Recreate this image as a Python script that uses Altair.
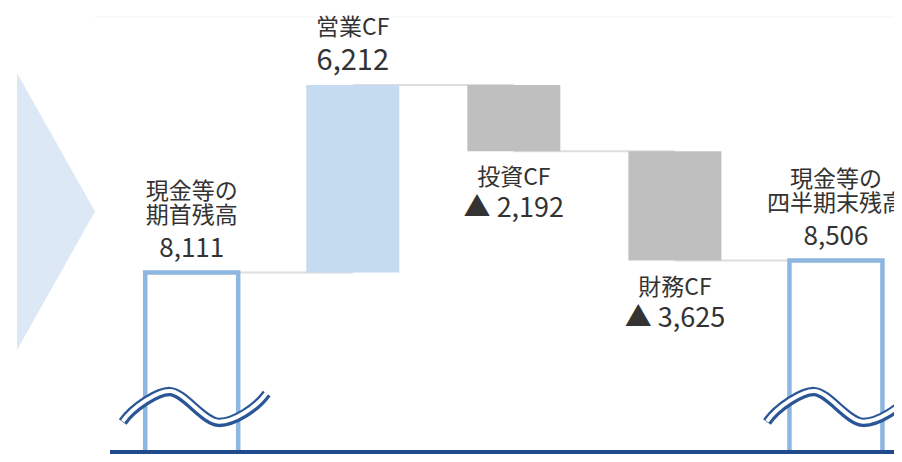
import altair as alt
import pandas as pd

# ---- data ----
STEP_KEYS = ["start", "op", "inv", "fin", "end"]
STEP_NAMES = ["現金等の\n期首残高", "営業CF", "投資CF", "財務CF", "現金等の\n四半期末残高"]
STEP_VALUES = [8111, 6212, -2192, -3625, 8506]
STEP_KIND = ["total", "delta", "delta", "delta", "total"]
DELTA_COLORS = {"op": "#c5dcf0", "inv": "#bfbfbf", "fin": "#bfbfbf"}
VALUE_SIZES = {"start": 26, "op": 29, "inv": 27, "fin": 27, "end": 26}

# broken value axis (bottom of the drawing) and top of the drawing
AXIS_MIN = 2098
AXIS_MAX = 16874

FONT = "Noto Sans CJK JP"
TEXT_COLOR = "#333333"
NAVY = "#1f4b8c"
OUTLINE = "#8db6e0"

rows = []
running = 0
for key, name, val, kind in zip(STEP_KEYS, STEP_NAMES, STEP_VALUES, STEP_KIND):
    if kind == "total":
        lo, hi = AXIS_MIN, val
        running = val
    else:
        lo, hi = sorted([running, running + val])
        running += val
    up = (kind == "total") or val > 0
    lines = name.split("\n")
    rows.append({
        "key": key, "kind": kind, "lo": lo, "hi": hi, "running": running,
        "anchor": hi if up else lo, "up": up,
        "vlabel": f"{val:,}" if val >= 0 else f"▲ {abs(val):,}",
        "vsize": VALUE_SIZES[key],
        "line1": lines[0] if len(lines) > 1 else "",
        "line2": lines[-1],
        "color": DELTA_COLORS.get(key, "white"),
    })
df = pd.DataFrame(rows)

conn = pd.DataFrame({
    "key": STEP_KEYS[:-1],
    "key2": STEP_KEYS[1:],
    "level": list(df["running"])[:-1],
})

xscale = alt.Scale(domain=STEP_KEYS, paddingInner=0.4226, paddingOuter=0.4618,
                   align=0.9224, round=False)
yscale = alt.Scale(domain=[AXIS_MIN, AXIS_MAX], zero=False, nice=False)

X = alt.X("key:N", scale=xscale, axis=None, sort=STEP_KEYS)

base = alt.Chart(df)
one = alt.Chart(pd.DataFrame({"k": [0]}))

panel_line = one.mark_rule(color="#f3f3f3", strokeWidth=1).encode(
    x=alt.value(87), x2=alt.value(886), y=alt.value(9))

CHEVRON = "M -0.2816 -1 L 0.2816 0 L -0.2816 1 Z"
chevron = one.mark_point(shape=CHEVRON, filled=True, fill="#dce8f5", opacity=1,
                         strokeWidth=0, size=76729).encode(
    x=alt.value(48), y=alt.value(203.5))

connectors = alt.Chart(conn).mark_rule(color="#dedede", strokeWidth=2).encode(
    x=alt.X("key:N", scale=xscale, axis=None, sort=STEP_KEYS),
    x2="key2:N",
    y=alt.Y("level:Q", scale=yscale, axis=None),
)

delta_bars = base.transform_filter(alt.datum.kind == "delta").mark_bar().encode(
    x=X,
    y=alt.Y("lo:Q", scale=yscale, axis=None),
    y2="hi:Q",
    color=alt.Color("color:N", scale=None),
)

total_bars = base.transform_filter(alt.datum.kind == "total").mark_bar(
    fill="white", stroke=OUTLINE, strokeWidth=4.5).encode(
    x=X,
    y=alt.Y("lo:Q", scale=yscale, axis=None),
    y2="hi:Q",
)

baseline = one.mark_rule(color=NAVY, strokeWidth=8).encode(
    x=alt.value(102), x2=alt.value(886),
    y=alt.Y(datum=AXIS_MIN, scale=yscale, axis=None),
)

WAVE = ("M -0.92 0.2 C -0.78 0 -0.45 -0.21 -0.29 -0.205 "
        "C -0.1 -0.2 0.16 0.2 0.36 0.205 "
        "C 0.55 0.21 0.86 0.02 1.0 -0.18")
totals = base.transform_filter(alt.datum.kind == "total")
wave_dark = totals.mark_point(shape=WAVE, filled=False, stroke="#2a5596", strokeWidth=9.5,
                              strokeCap="butt", opacity=1, size=22500).encode(
    x=X, y=alt.value(399))
wave_light = totals.mark_point(shape=WAVE, filled=False, stroke="white", strokeWidth=4,
                               strokeCap="butt", opacity=1, size=22500).encode(
    x=X, y=alt.value(398.3))

ups = base.transform_filter(alt.datum.up == True)
downs = base.transform_filter(alt.datum.up == False)


def name_txt(src, field, dy):
    return src.mark_text(font=FONT, fontSize=23, color=TEXT_COLOR, baseline="middle",
                         align="center", dy=dy).encode(
        x=X, y=alt.Y("anchor:Q", scale=yscale, axis=None), text=f"{field}:N")


def value_txt(src, dy):
    return src.mark_text(font=FONT, color=TEXT_COLOR, baseline="middle",
                         align="center", dy=dy).encode(
        x=X, y=alt.Y("anchor:Q", scale=yscale, axis=None), text="vlabel:N",
        size=alt.Size("vsize:Q", scale=None))


up_value = value_txt(ups, -24)
up_name2 = name_txt(ups, "line2", -57)
up_name1 = name_txt(ups, "line1", -81)
down_name = name_txt(downs, "line2", 27)
down_value = value_txt(downs, 58)

chart = alt.layer(
    panel_line, chevron, connectors, delta_bars, total_bars, baseline,
    wave_dark, wave_light, up_value, up_name2, up_name1, down_name, down_value,
).properties(
    width=886, height=446, autosize="none",
    padding={"left": 0, "right": 0, "top": 0, "bottom": 0},
    background="white",
).configure_view(strokeWidth=0)

chart.save("out.html", embed_options={"renderer": "svg", "actions": False})
